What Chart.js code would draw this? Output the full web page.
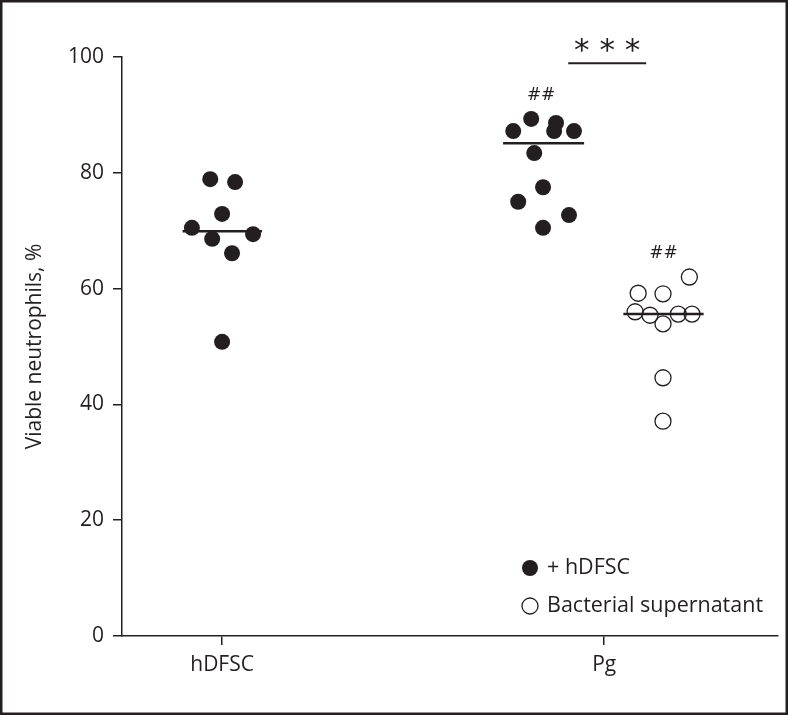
<!DOCTYPE html>
<html>
<head>
<meta charset="utf-8">
<script src="https://cdn.jsdelivr.net/npm/chart.js@4.4.1/dist/chart.umd.min.js"></script>
<style>
  html, body { margin: 0; padding: 0; background: #fff; }
  #wrap { width: 788px; height: 715px; position: relative; }
</style>
</head>
<body>
<div id="wrap"><canvas id="chart" width="788" height="715"></canvas></div>
<script>
// categories on the x axis (1 = hDFSC, 2 = Pg)
const categories = ["hDFSC", "Pg"];
const yTicks = [0, 20, 40, 60, 80, 100];

// hDFSC alone (filled)
const hdfscX = [0.969, 1.034, 1.000, 0.921, 0.974, 1.081, 1.026, 1.000];
const hdfscY = [78.9, 78.4, 72.9, 70.5, 68.6, 69.4, 66.1, 50.8];
const hdfscMedian = 69.9;

// Pg + hDFSC (filled)
const pgFilledX = [1.762, 1.809, 1.874, 1.869, 1.921, 1.817, 1.840, 1.775, 1.908, 1.840];
const pgFilledY = [87.2, 89.3, 88.6, 87.2, 87.2, 83.4, 77.5, 75.0, 72.7, 70.5];
const pgFilledMedian = 85.1;

// Pg bacterial supernatant (open)
const pgOpenX = [2.223, 2.089, 2.154, 2.081, 2.120, 2.154, 2.194, 2.230, 2.154, 2.154];
const pgOpenY = [62.0, 59.2, 59.1, 56.0, 55.4, 53.9, 55.6, 55.6, 44.6, 37.1];
const pgOpenMedian = 55.6;

// significance marks
const sigBar = { x1: 1.906, x2: 2.110, y: 98.9, label: "* * *" };
const hashMarks = [
  { x: 1.835, y: 93.6, label: "##" },
  { x: 2.155, y: 66.4, label: "##" }
];

const ink = "#231f20";
const fontFamily = "'Open Sans'";

function pts(xs, ys) {
  return xs.map((x, i) => ({ x: x, y: ys[i] }));
}
function medianLine(xs, v, half) {
  const c = xs.reduce((a, b) => a + b, 0) / xs.length;
  return [{ x: c - half, y: v }, { x: c + half, y: v }];
}

const extras = {
  id: "extras",
  afterDraw(chart) {
    const { ctx, scales: { x, y } } = chart;
    ctx.save();
    // significance bar
    ctx.strokeStyle = ink;
    ctx.lineWidth = 2;
    ctx.beginPath();
    ctx.moveTo(x.getPixelForValue(sigBar.x1), y.getPixelForValue(sigBar.y));
    ctx.lineTo(x.getPixelForValue(sigBar.x2), y.getPixelForValue(sigBar.y));
    ctx.stroke();
    ctx.fillStyle = ink;
    ctx.textAlign = "center";
    ctx.textBaseline = "alphabetic";
    ctx.font = "31px 'DejaVu Sans'";
    ctx.fillText(sigBar.label, (x.getPixelForValue(sigBar.x1) + x.getPixelForValue(sigBar.x2)) / 2, y.getPixelForValue(sigBar.y) - 3);
    ctx.font = "17px 'DejaVu Sans'";
    hashMarks.forEach(h => {
      ctx.fillText(h.label, x.getPixelForValue(h.x), y.getPixelForValue(h.y) + 6);
    });

    // legend
    ctx.font = "21.5px " + fontFamily;
    ctx.textAlign = "left";
    ctx.textBaseline = "middle";
    const lx = 530, ly1 = 568, ly2 = 606;
    ctx.beginPath();
    ctx.arc(lx, ly1, 8, 0, Math.PI * 2);
    ctx.fill();
    ctx.fillText("+ hDFSC", 547, ly1);
    ctx.beginPath();
    ctx.lineWidth = 1.3;
    ctx.arc(lx, ly2, 8, 0, Math.PI * 2);
    ctx.stroke();
    ctx.fillText("Bacterial supernatant", 547, ly2);

    // frame
    ctx.lineWidth = 2.5;
    ctx.strokeStyle = ink;
    ctx.strokeRect(1.25, 1.25, chart.width - 2.5, chart.height - 2.5);
    ctx.restore();
  }
};

const ctx = document.getElementById("chart");
new Chart(ctx, {
  type: "scatter",
  data: {
    datasets: [
      {
        data: pts(hdfscX, hdfscY),
        backgroundColor: ink, borderColor: ink, pointRadius: 8, borderWidth: 0
      },
      {
        data: pts(pgFilledX, pgFilledY),
        backgroundColor: ink, borderColor: ink, pointRadius: 8, borderWidth: 0
      },
      {
        data: pts(pgOpenX, pgOpenY),
        backgroundColor: "rgba(255,255,255,0)", borderColor: ink, pointRadius: 8, borderWidth: 1.3
      },
      {
        type: "line", data: medianLine(hdfscX, hdfscMedian, 0.104),
        borderColor: ink, borderWidth: 2.5, pointRadius: 0, showLine: true
      },
      {
        type: "line", data: medianLine(pgFilledX, pgFilledMedian, 0.106),
        borderColor: ink, borderWidth: 2.5, pointRadius: 0, showLine: true
      },
      {
        type: "line", data: medianLine(pgOpenX, pgOpenMedian, 0.105),
        borderColor: ink, borderWidth: 2.5, pointRadius: 0, showLine: true
      }
    ]
  },
  options: {
    responsive: false,
    animation: false,
    layout: { padding: { left: 22, right: 10, top: 57, bottom: 0 } },
    plugins: { legend: { display: false }, tooltip: { enabled: false } },
    scales: {
      x: {
        type: "linear",
        min: 0.738,
        max: 2.455,
        afterBuildTicks(axis) {
          axis.ticks = categories.map((c, i) => ({ value: i + 1 }));
        },
        afterFit(axis) { axis.height = 79; },
        border: { display: true, color: ink, width: 1.5 },
        grid: { drawOnChartArea: false, drawTicks: true, tickLength: 9, color: ink, lineWidth: 1.5 },
        ticks: {
          color: ink,
          font: { family: fontFamily, size: 21 },
          padding: 7,
          callback: (v) => categories[Math.round(v) - 1]
        }
      },
      y: {
        min: 0,
        max: 100,
        afterBuildTicks(axis) {
          axis.ticks = yTicks.map(v => ({ value: v }));
        },
        afterFit(axis) { axis.width = 100; },
        border: { display: true, color: ink, width: 1.5 },
        grid: { drawOnChartArea: false, drawTicks: true, tickLength: 9, color: ink, lineWidth: 1.5 },
        ticks: {
          color: ink,
          font: { family: fontFamily, size: 21 },
          padding: 9
        },
        title: {
          display: true,
          text: "Viable neutrophils, %",
          color: ink,
          font: { family: fontFamily, size: 21 },
          padding: { top: 0, bottom: 14 }
        }
      }
    }
  },
  plugins: [extras]
});
</script>
</body>
</html>
